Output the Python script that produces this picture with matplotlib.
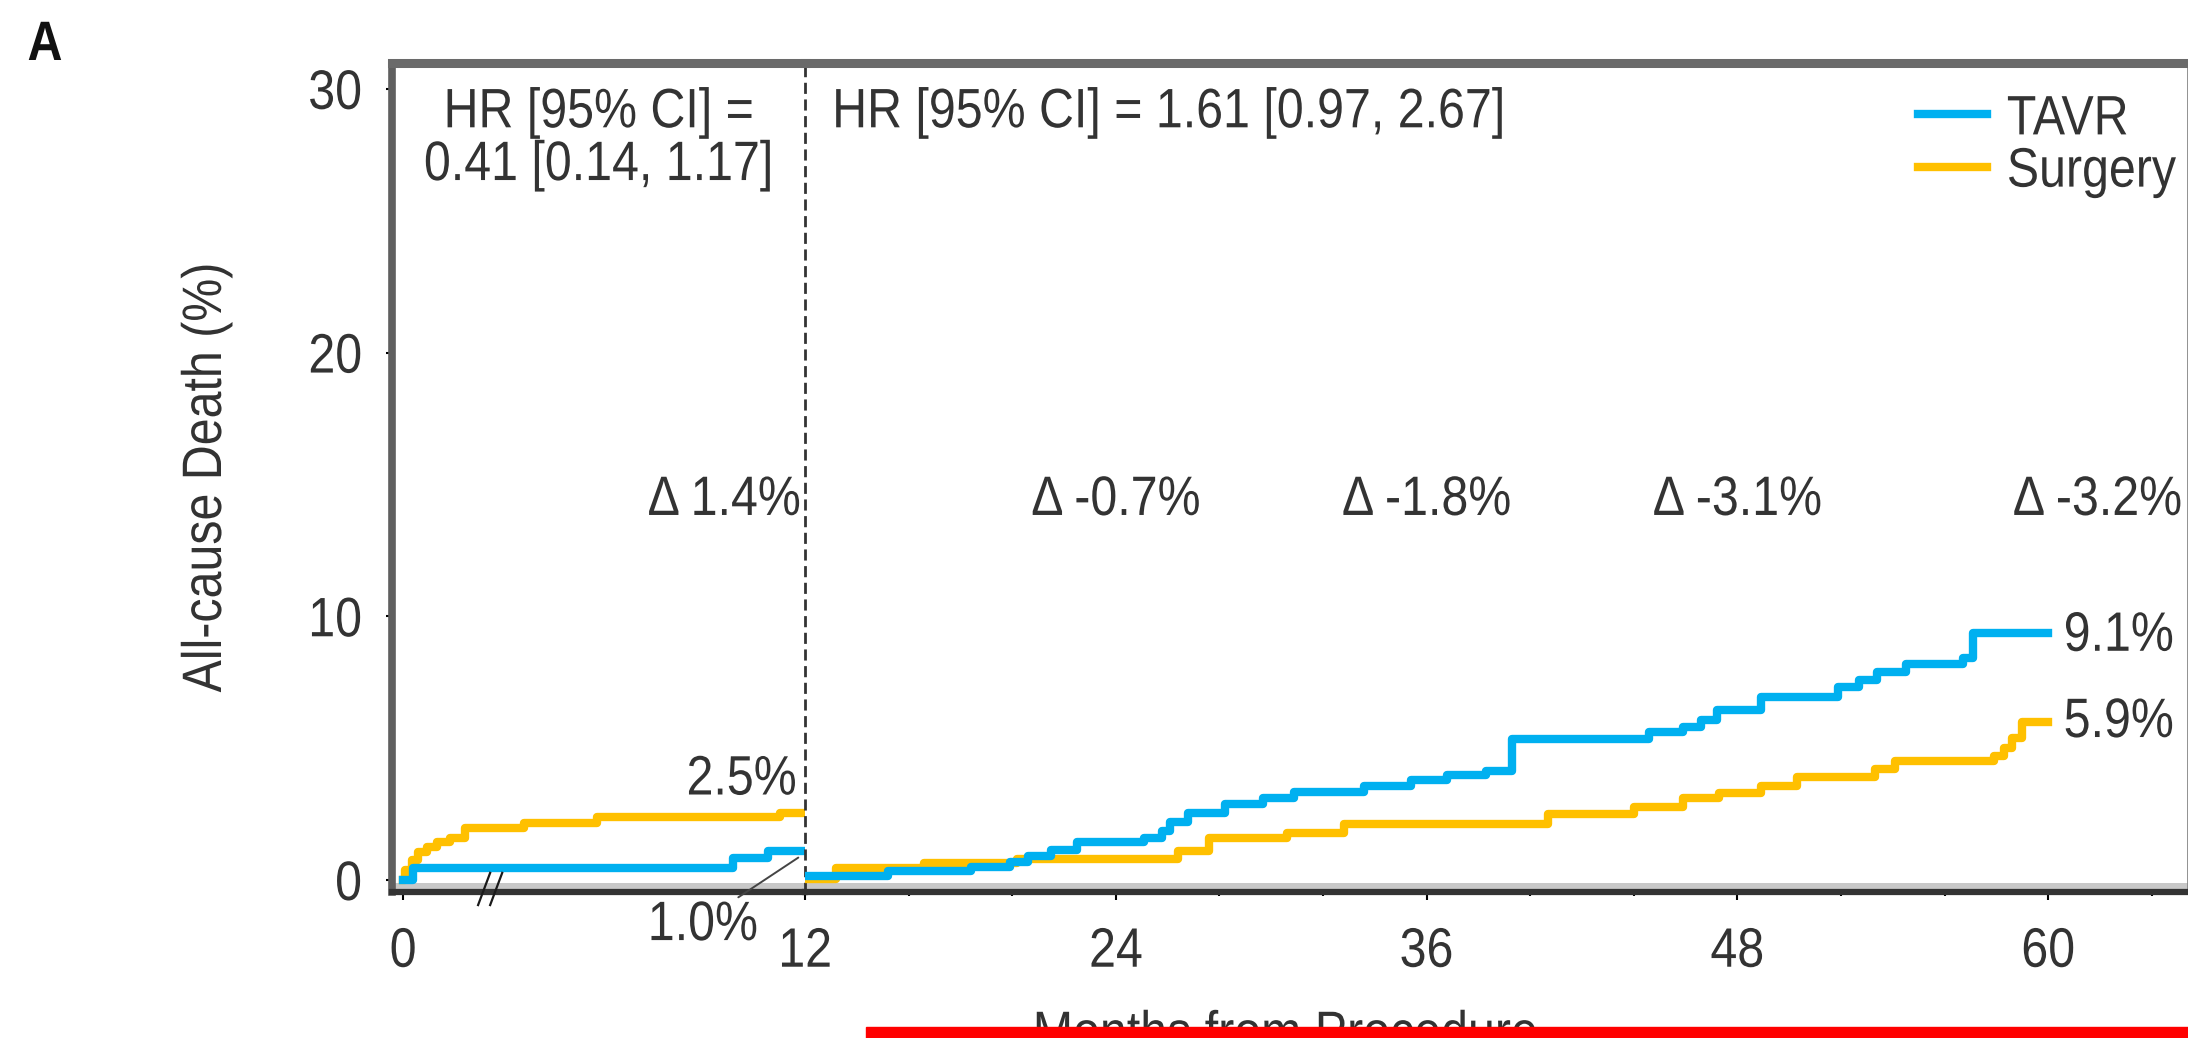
import matplotlib
matplotlib.use("Agg")
import matplotlib.pyplot as plt
from matplotlib.lines import Line2D
from matplotlib.patches import Rectangle
from matplotlib.path import Path
from matplotlib.patheffects import AbstractPathEffect
from matplotlib.transforms import Affine2D
from matplotlib.ticker import FixedLocator, MultipleLocator

plt.rcParams['font.family'] = ['Liberation Sans', 'DejaVu Sans']
plt.rcParams['font.size'] = 40

# データ
# 0-12か月
tavr_t1 = [0, 0.3, 9.85, 10.9, 12]
tavr_y1 = [0, 0.45, 0.85, 1.1, 1.1]
surg_t1 = [0, 0.06, 0.27, 0.45, 0.7, 1.0, 1.4, 1.85, 3.6, 5.8, 11.25, 12]
surg_y1 = [0, 0.38, 0.76, 1.06, 1.25, 1.44, 1.6, 1.97, 2.16, 2.39, 2.55, 2.55]

# 12-60か月（ランドマーク解析）
tavr_t2 = [12, 15.2, 18.4, 19.9, 20.6, 21.5, 22.5, 25.1, 25.8, 26.1, 26.8, 28.2,
           29.7, 30.9, 33.6, 35.4, 36.8, 38.3, 39.3, 44.6, 45.9, 46.6, 47.2, 48.9,
           51.9, 52.7, 53.4, 54.5, 56.7, 57.1, 60]
tavr_y2 = [0.15, 0.35, 0.5, 0.7, 0.9, 1.15, 1.45, 1.6, 1.85, 2.2, 2.55, 2.9,
           3.1, 3.35, 3.55, 3.8, 4.0, 4.15, 5.35, 5.6, 5.8, 6.05, 6.45, 6.95,
           7.3, 7.6, 7.9, 8.2, 8.4, 9.35, 9.35]
surg_t2 = [12, 13.2, 16.6, 20.2, 26.4, 27.6, 30.6, 32.8, 40.7, 44.0, 45.9, 47.3,
           48.9, 50.3, 53.3, 54.1, 57.9, 58.3, 58.6, 59.0, 60]
surg_y2 = [0.05, 0.45, 0.65, 0.78, 1.1, 1.6, 1.78, 2.12, 2.5, 2.75, 3.1, 3.3,
           3.55, 3.9, 4.2, 4.5, 4.7, 5.0, 5.4, 6.0, 6.0]

series = ['TAVR', 'Surgery']
colors = {'TAVR': '#00B0F0', 'Surgery': '#FFC000'}

hr_early = ['HR [95% CI] =', '0.41 [0.14, 1.17]']
hr_late = 'HR [95% CI] = 1.61 [0.97, 2.67]'
delta_x = [12, 24, 36, 48, 61.9]
delta_lbl = ['Δ 1.4%', 'Δ -0.7%', 'Δ -1.8%', 'Δ -3.1%', 'Δ -3.2%']
end_lbl_1 = {'TAVR': '1.0%', 'Surgery': '2.5%'}
end_lbl_2 = {'TAVR': '9.1%', 'Surgery': '5.9%'}


# 元図の文字は横に詰まっているので、文字パスを横方向に縮める
class Condense(AbstractPathEffect):
    def __init__(self, sx=0.87, ha='left'):
        super().__init__()
        self._sx = sx
        self._ha = ha

    def draw_path(self, renderer, gc, tpath, affine, rgbFace=None):
        v = tpath.vertices
        if tpath.codes is not None:
            v = v[tpath.codes != Path.CLOSEPOLY]
        if len(v) == 0:
            renderer.draw_path(gc, tpath, affine, rgbFace)
            return
        x0, x1 = v[:, 0].min(), v[:, 0].max()
        pivot = {'left': 0.0, 'center': (x0 + x1) / 2, 'right': x1}[self._ha]
        squeeze = Affine2D().translate(-pivot, 0).scale(self._sx, 1).translate(pivot, 0)
        renderer.draw_path(gc, tpath, squeeze + affine, rgbFace)


def cz(ha):
    return [Condense(0.87, ha)]


W, H = 2188, 1038
fig = plt.figure(figsize=(W / 100, H / 100), dpi=100)

# 軸の配置（ピクセル）
x_left, x_mid, x_right = 392, 805, 2188
y_top, y_bot = 63, 892
ax1 = fig.add_axes([x_left / W, 1 - y_bot / H, (x_mid - x_left) / W, (y_bot - y_top) / H])
ax2 = fig.add_axes([x_mid / W, 1 - y_bot / H, (x_right - x_mid) / W, (y_bot - y_top) / H])

ylim = (-0.455, 30.98)
ax1.set_xlim(-0.33, 12)
ax2.set_xlim(12, 65.4)
for ax in (ax1, ax2):
    ax.set_ylim(*ylim)
    ax.set_facecolor('none')
    ax.spines['top'].set_color('#6a6a6a')
    ax.spines['top'].set_linewidth(6.5)
    ax.spines['bottom'].set_color('#333333')
    ax.spines['bottom'].set_linewidth(4.5)
    ax.axhline(-0.23, color='#c8c8c8', lw=4.3, zorder=1)

ax1.spines['right'].set_visible(False)
ax1.spines['left'].set_color('#5f5f5f')
ax1.spines['left'].set_linewidth(5.5)
ax2.spines['left'].set_color('#333333')
ax2.spines['left'].set_linewidth(2)
ax2.spines['left'].set_linestyle((0, (3, 3)))
ax2.spines['right'].set_color('#888888')
ax2.spines['right'].set_linewidth(2)

# 曲線
lw = 6
ax1.step(surg_t1, surg_y1, where='post', color=colors['Surgery'], lw=lw, zorder=3)
ax1.step(tavr_t1, tavr_y1, where='post', color=colors['TAVR'], lw=lw, zorder=4)
ax2.step(surg_t2, surg_y2, where='post', color=colors['Surgery'], lw=lw, zorder=3)
ax2.step(tavr_t2, tavr_y2, where='post', color=colors['TAVR'], lw=lw, zorder=4)

# 目盛り
txt_col = '#333333'
ax1.yaxis.set_major_locator(FixedLocator([0, 10, 20, 30]))
ax1.xaxis.set_major_locator(FixedLocator([0, 12]))
ax1.tick_params(axis='y', direction='out', length=4.5, width=1.5, pad=17, labelcolor=txt_col)
ax1.tick_params(axis='x', direction='out', length=6, width=1.5, pad=19, labelcolor=txt_col)
ax2.xaxis.set_major_locator(FixedLocator([24, 36, 48, 60]))
ax2.xaxis.set_minor_locator(MultipleLocator(4))
ax2.tick_params(axis='x', which='major', direction='out', length=6, width=1.5, pad=19, labelcolor=txt_col)
ax2.tick_params(axis='x', which='minor', direction='out', length=3, width=1.5)
ax2.tick_params(axis='y', left=False, labelleft=False)

for lab in ax1.get_yticklabels():
    lab.set_path_effects(cz('right'))
for lab in ax1.get_xticklabels() + ax2.get_xticklabels():
    lab.set_path_effects(cz('center'))

ax1.set_ylabel('All-cause Death (%)', color=txt_col, va='center', path_effects=cz('center'))
ax1.yaxis.set_label_coords((207 - x_left) / (x_mid - x_left), 0.5)

# 破断記号 //
for dx in (0, 0.36):
    ax1.plot([2.24 + dx, 2.6 + dx], [-0.95, 0.27], color='#1a1a1a', lw=1.6,
             clip_on=False, zorder=6)

# HR テキスト
ax1.text(0.5, 29.3, hr_early[0], transform=ax1.get_yaxis_transform(),
         ha='center', va='center_baseline', color=txt_col, path_effects=cz('center'))
ax1.text(0.5, 27.3, hr_early[1], transform=ax1.get_yaxis_transform(),
         ha='center', va='center_baseline', color=txt_col, path_effects=cz('center'))
ax2.text(13.05, 29.3, hr_late, ha='left', va='center_baseline', color=txt_col,
         path_effects=cz('left'))

# Δ ラベル
ax1.text(delta_x[0] - 0.12, 14.6, delta_lbl[0], ha='right', va='center_baseline',
         color=txt_col, path_effects=cz('right'))
for x, s in zip(delta_x[1:], delta_lbl[1:]):
    ax2.text(x, 14.6, s, ha='center', va='center_baseline', color=txt_col,
             clip_on=False, path_effects=cz('center'))

# 終点ラベル
ax1.text(11.76, surg_y1[-1] + 1.45, end_lbl_1['Surgery'], ha='right',
         va='center_baseline', color=txt_col, path_effects=cz('right'))
ax1.annotate(end_lbl_1['TAVR'], xy=(11.8, tavr_y1[-1] - 0.25), xytext=(10.6, -1.52),
             ha='right', va='center_baseline', color=txt_col, annotation_clip=False,
             path_effects=cz('right'),
             arrowprops=dict(arrowstyle='-', color='#444444', lw=1.4,
                             shrinkA=0, shrinkB=0))
ax2.text(60.6, tavr_y2[-1] + 0.1, end_lbl_2['TAVR'], ha='left', va='center_baseline',
         color=txt_col, clip_on=False, path_effects=cz('left'))
ax2.text(60.6, surg_y2[-1] + 0.18, end_lbl_2['Surgery'], ha='left', va='center_baseline',
         color=txt_col, clip_on=False, path_effects=cz('left'))

# 凡例
leg_y = [0.938, 0.875]
for name, ly in zip(series, leg_y):
    ax2.add_line(Line2D([0.805, 0.855], [ly, ly], transform=ax2.transAxes,
                        color=colors[name], lw=lw))
    ax2.text(0.869, ly, name, transform=ax2.transAxes, ha='left',
             va='center_baseline', color=txt_col, path_effects=cz('left'))

# パネル記号と x 軸ラベル
fig.text(45 / W, 1 - 40 / H, 'A', fontsize=40, fontweight='bold',
         ha='center', va='center_baseline', color='#111111', path_effects=cz('center'))
fig.text(1285 / W, -12 / H, 'Months from Procedure', ha='center', va='baseline',
         color=txt_col, path_effects=cz('center'))

# 赤い帯（元画像の下部）
fig.add_artist(Rectangle((866 / W, 0), (W - 866) / W, 11 / H,
                         transform=fig.transFigure, color='#ff0000', zorder=10))

fig.savefig('out.png', dpi=100)
